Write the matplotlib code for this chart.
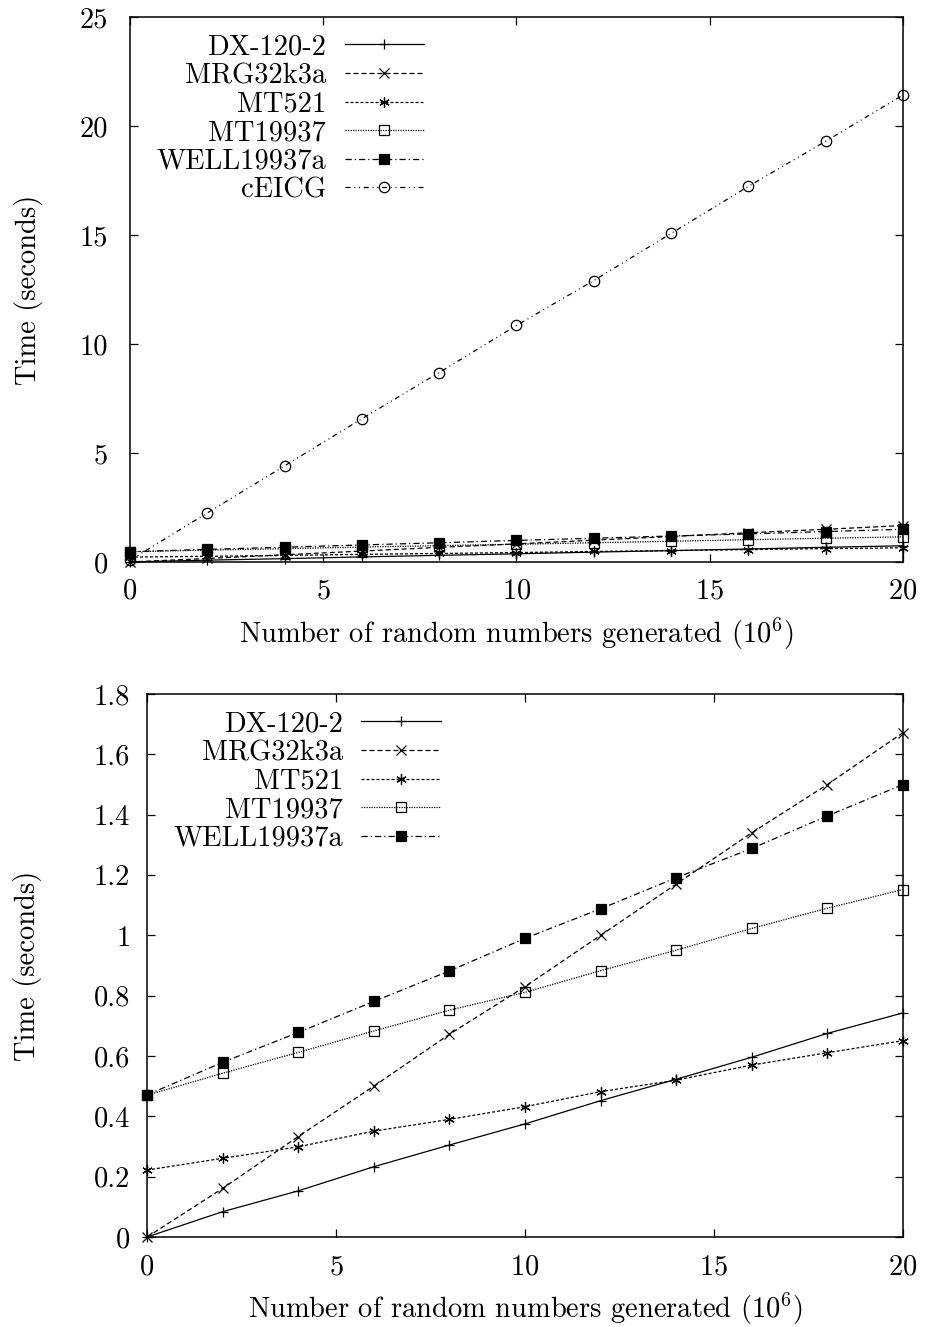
import numpy as np
import matplotlib
matplotlib.use('Agg')
import matplotlib.pyplot as plt
from matplotlib.ticker import FormatStrFormatter

plt.rcParams['font.family'] = 'cmr10'
plt.rcParams['mathtext.fontset'] = 'cm'
plt.rcParams['axes.formatter.use_mathtext'] = True

# Number of random numbers generated (10^6)
x = [0, 2, 4, 6, 8, 10, 12, 14, 16, 18, 20]

# Time in seconds per generator
dx120 = [0.0, 0.084, 0.153, 0.233, 0.305, 0.375, 0.452, 0.523, 0.596, 0.675, 0.743]
mrg32k3a = [0.0, 0.161, 0.333, 0.500, 0.672, 0.830, 1.000, 1.170, 1.340, 1.500, 1.672]
mt521 = [0.222, 0.261, 0.299, 0.351, 0.390, 0.432, 0.482, 0.520, 0.570, 0.611, 0.651]
mt19937 = [0.470, 0.543, 0.612, 0.683, 0.752, 0.811, 0.883, 0.951, 1.023, 1.090, 1.152]
well19937a = [0.471, 0.579, 0.678, 0.781, 0.882, 0.990, 1.088, 1.191, 1.288, 1.396, 1.500]
ceicg = [0.08, 2.25, 4.41, 6.57, 8.69, 10.85, 12.91, 15.07, 17.23, 19.30, 21.42]

labels = ['DX-120-2', 'MRG32k3a', 'MT521', 'MT19937', 'WELL19937a', 'cEICG']

# gnuplot-like line/point styles
styles = [
    dict(marker='+', dashes=[], mfc='k'),
    dict(marker='x', dashes=[4, 2.4], mfc='k'),
    dict(marker=(6, 2, 0), dashes=[2.4, 1.6], mfc='k'),
    dict(marker='s', dashes=[1, 1], mfc='none'),
    dict(marker='s', dashes=[5, 2.4, 1, 2.4], mfc='k'),
    dict(marker='o', dashes=[4, 3, 0.8, 3, 0.8, 3], mfc='none'),
]

FS = 20.5


def draw_panel(ax, series, ylim, yticks, yfmt, ypad, legx):
    for i, y in enumerate(series):
        st = styles[i]
        line, = ax.plot(x, y, color='k', lw=0.9, marker=st['marker'],
                        markersize=7.5, mfc=st['mfc'], mec='k', mew=0.9,
                        label=labels[i], clip_on=False)
        if st['dashes']:
            line.set_dashes(st['dashes'])
    ax.set_xlim(0, 20)
    ax.set_ylim(*ylim)
    ax.set_xticks([0, 5, 10, 15, 20])
    ax.set_yticks(yticks)
    ax.yaxis.set_major_formatter(FormatStrFormatter(yfmt))
    ax.tick_params(direction='in', top=True, right=True, length=6,
                   width=0.9, labelsize=FS)
    ax.tick_params(axis='x', pad=12)
    ax.tick_params(axis='y', pad=ypad)
    for sp in ax.spines.values():
        sp.set_linewidth(1.1)
    ax.set_xlabel('Number of random numbers generated (10$^6$)', fontsize=FS,
                  labelpad=8)
    ax.set_ylabel('Time (seconds)', fontsize=FS)
    leg = ax.legend(loc='upper left', bbox_to_anchor=(legx, 1.0),
                    frameon=False, markerfirst=False,
                    fontsize=FS, handlelength=2.8, handletextpad=0.65,
                    labelspacing=0.08, borderaxespad=0.3, borderpad=0.3)
    # right-justify the legend entries like gnuplot does
    for col in leg._legend_handle_box.get_children():
        col.align = 'right'
    return leg


fig = plt.figure(figsize=(9.25, 13.27), dpi=100)

ax1 = fig.add_axes([0.1405, 0.5765, 0.9762 - 0.1405, 0.9872 - 0.5765])
draw_panel(ax1, [dx120, mrg32k3a, mt521, mt19937, well19937a, ceicg],
           (0, 25), [0, 5, 10, 15, 20, 25], '%g', 16, 0.012)
ax1.yaxis.set_label_coords(-0.113, 0.5)

ax2 = fig.add_axes([0.1589, 0.0678, 0.9762 - 0.1589, 0.4770 - 0.0678])
draw_panel(ax2, [dx120, mrg32k3a, mt521, mt19937, well19937a],
           (0, 1.8), [0, 0.2, 0.4, 0.6, 0.8, 1.0, 1.2, 1.4, 1.6, 1.8], '%g', 12,
           0.012)
ax2.yaxis.set_label_coords(-0.139, 0.5)

fig.savefig('out.png', dpi=100)
